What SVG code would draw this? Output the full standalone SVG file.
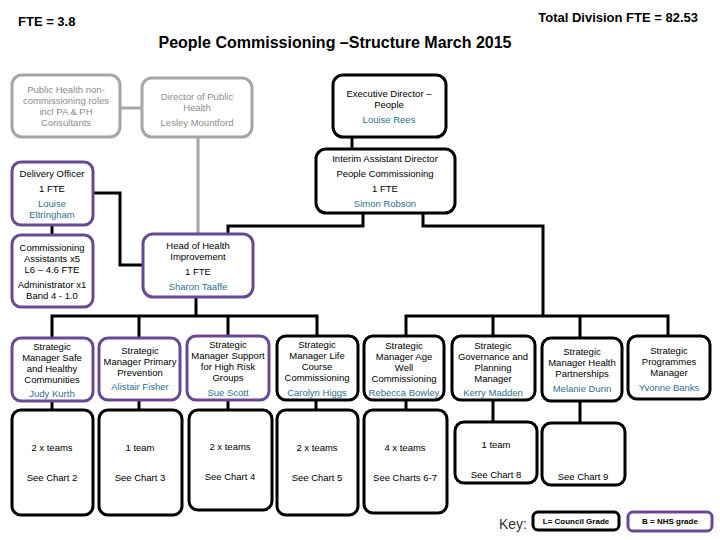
<svg xmlns="http://www.w3.org/2000/svg" width="720" height="540" viewBox="0 0 720 540">
<style>
text{font-family:"Liberation Sans",Arial,sans-serif;}
.t{font-size:9.5px;fill:#000;text-anchor:middle;}
.n{font-size:9.5px;fill:#2f6f8f;text-anchor:middle;}
.g{font-size:9.5px;fill:#8c8c8c;text-anchor:middle;}
.hd{font-weight:bold;fill:#000;}
.bk{fill:#fff;stroke:#000;stroke-width:3;}
.pu{fill:#fff;stroke:#674a91;stroke-width:3;}
.gr{fill:#fff;stroke:#a6a6a6;stroke-width:3;}
.c{fill:none;stroke:#000;stroke-width:3;}
.cg{fill:none;stroke:#a6a6a6;stroke-width:3;}
.k{font-size:8px;font-weight:bold;text-anchor:middle;fill:#000;}
</style>
<rect width="720" height="540" fill="#fff"/>
<text class="hd" x="18" y="26" font-size="13">FTE = 3.8</text>
<text class="hd" x="698" y="22" font-size="13" text-anchor="end">Total Division FTE = 82.53</text>
<text class="hd" x="335" y="48" font-size="16" text-anchor="middle">People Commissioning –Structure March 2015</text>

<g id="connectors">
<path class="cg" d="M120 108 H142"/>
<path class="cg" d="M198 137 V234"/>
<path class="c" d="M352 137 V149"/>
<path class="c" d="M363 213 V226 H228 V234"/>
<path class="c" d="M423 213 V226 H543 V316"/>
<path class="c" d="M93 193 H120 V265 H143"/>
<path class="c" d="M52 225 V235"/>
<path class="c" d="M196 297 V316"/>
<path class="c" d="M52 338 V316 H317 V336"/>
<path class="c" d="M139 316 V338 M228 316 V336"/>
<path class="c" d="M406 336 V316 H668 V336"/>
<path class="c" d="M493 316 V336 M580 316 V338"/>
<path class="c" d="M52 401 V410 M139 400 V410 M228 400 V410 M316 400 V410 M406 400 V410"/>
<path class="c" d="M493 401 V422 M580 401 V423"/>
</g>

<g id="ph-noncomm"><rect class="gr" x="12" y="75" width="108" height="62" rx="10"/>
<text class="g" x="66" y="93">Public Health non-</text><text class="g" x="66" y="104">commissioning roles</text><text class="g" x="66" y="115">incl PA &amp; PH</text><text class="g" x="66" y="126">Consultants</text></g>

<g id="dph"><rect class="gr" x="142" y="78" width="110" height="59" rx="10"/>
<text class="g" x="197" y="100">Director of Public</text><text class="g" x="197" y="111">Health</text><text class="g" x="197" y="126">Lesley Mountford</text></g>

<g id="exec"><rect class="bk" x="333" y="75" width="113" height="62" rx="10"/>
<text class="t" x="389" y="97">Executive Director –</text><text class="t" x="389" y="108">People</text><text class="n" x="389" y="123">Louise Rees</text></g>

<g id="interim"><rect class="bk" x="316" y="149" width="139" height="64" rx="10"/>
<text class="t" x="385" y="162">Interim Assistant Director</text><text class="t" x="385" y="177">People Commissioning</text><text class="t" x="385" y="192">1 FTE</text><text class="n" x="385" y="207">Simon Robson</text></g>

<g id="delivery"><rect class="pu" x="12" y="162" width="81" height="63" rx="9"/>
<text class="t" x="52" y="177">Delivery Officer</text><text class="t" x="52" y="192">1 FTE</text><text class="n" x="52" y="207">Louise</text><text class="n" x="52" y="218">Eltringham</text></g>

<g id="comm-assist"><rect class="pu" x="12" y="235" width="81" height="72" rx="9"/>
<text class="t" x="52" y="251">Commissioning</text><text class="t" x="52" y="262">Assistants x5</text><text class="t" x="52" y="273">L6 – 4.6 FTE</text><text class="t" x="52" y="288">Administrator x1</text><text class="t" x="52" y="299">Band 4 - 1.0</text></g>

<g id="head-hi"><rect class="pu" x="143" y="234" width="110" height="63" rx="10"/>
<text class="t" x="198" y="249">Head of Health</text><text class="t" x="198" y="260">Improvement</text><text class="t" x="198" y="275">1 FTE</text><text class="n" x="198" y="290">Sharon Taaffe</text></g>

<g id="sm-safe"><rect class="pu" x="12" y="338" width="81" height="63" rx="9"/>
<text class="t" x="52" y="350">Strategic</text><text class="t" x="52" y="361">Manager Safe</text><text class="t" x="52" y="372">and Healthy</text><text class="t" x="52" y="383">Communities</text><text class="n" x="52" y="397">Judy Kurth</text></g>

<g id="sm-primary"><rect class="pu" x="99" y="338" width="81" height="62" rx="9"/>
<text class="t" x="140" y="354">Strategic</text><text class="t" x="140" y="365">Manager Primary</text><text class="t" x="140" y="376">Prevention</text><text class="n" x="140" y="390">Alistair Fisher</text></g>

<g id="sm-support"><rect class="pu" x="187" y="336" width="82" height="64" rx="9"/>
<text class="t" x="228" y="348">Strategic</text><text class="t" x="228" y="359">Manager Support</text><text class="t" x="228" y="370">for High Risk</text><text class="t" x="228" y="381">Groups</text><text class="n" x="228" y="396">Sue Scott</text></g>

<g id="sm-life"><rect class="bk" x="277" y="336" width="81" height="64" rx="9"/>
<text class="t" x="317" y="348">Strategic</text><text class="t" x="317" y="359">Manager Life</text><text class="t" x="317" y="370">Course</text><text class="t" x="317" y="381">Commissioning</text><text class="n" x="317" y="396">Carolyn Higgs</text></g>

<g id="sm-age"><rect class="bk" x="364" y="336" width="80" height="64" rx="9"/>
<text class="t" x="404" y="349">Strategic</text><text class="t" x="404" y="360">Manager Age</text><text class="t" x="404" y="371">Well</text><text class="t" x="404" y="382">Commissioning</text><text class="n" x="404" y="396">Rebecca Bowley</text></g>

<g id="sm-gov"><rect class="bk" x="452" y="336" width="83" height="64" rx="9"/>
<text class="t" x="493" y="349">Strategic</text><text class="t" x="493" y="360">Governance and</text><text class="t" x="493" y="371">Planning</text><text class="t" x="493" y="382">Manager</text><text class="n" x="493" y="396">Kerry Madden</text></g>

<g id="sm-health"><rect class="bk" x="542" y="338" width="80" height="63" rx="9"/>
<text class="t" x="582" y="355">Strategic</text><text class="t" x="582" y="366">Manager Health</text><text class="t" x="582" y="377">Partnerships</text><text class="n" x="582" y="392">Melanie Dunn</text></g>

<g id="sm-prog"><rect class="bk" x="628" y="336" width="82" height="63" rx="9"/>
<text class="t" x="669" y="354">Strategic</text><text class="t" x="669" y="365">Programmes</text><text class="t" x="669" y="376">Manager</text><text class="n" x="669" y="391">Yvonne Banks</text></g>

<g id="teams-1"><rect class="bk" x="12" y="410" width="81" height="105" rx="9"/>
<text class="t" x="52" y="451">2 x teams</text><text class="t" x="52" y="481">See Chart 2</text></g>
<g id="teams-2"><rect class="bk" x="99" y="410" width="83" height="105" rx="9"/>
<text class="t" x="140" y="451">1 team</text><text class="t" x="140" y="481">See Chart 3</text></g>
<g id="teams-3"><rect class="bk" x="189" y="410" width="83" height="100" rx="9"/>
<text class="t" x="230" y="450">2 x teams</text><text class="t" x="230" y="480">See Chart 4</text></g>
<g id="teams-4"><rect class="bk" x="277" y="410" width="81" height="105" rx="9"/>
<text class="t" x="317" y="451">2 x teams</text><text class="t" x="317" y="481">See Chart 5</text></g>
<g id="teams-5"><rect class="bk" x="364" y="410" width="83" height="103" rx="9"/>
<text class="t" x="405" y="451">4 x teams</text><text class="t" x="405" y="481">See Charts 6-7</text></g>
<g id="teams-6"><rect class="bk" x="455" y="422" width="82" height="61" rx="9"/>
<text class="t" x="496" y="448">1 team</text><text class="t" x="496" y="478">See Chart 8</text></g>
<g id="teams-7"><rect class="bk" x="542" y="423" width="83" height="62" rx="9"/>
<text class="t" x="583" y="480">See Chart 9</text></g>

<g id="key">
<text x="499" y="529" font-size="14" fill="#333">Key:</text>
<rect class="bk" x="533" y="512" width="86" height="18" rx="5" stroke-width="2.5"/>
<text class="k" x="576" y="524">L= Council Grade</text>
<rect class="pu" x="628" y="512" width="84" height="19" rx="5" stroke-width="2.5"/>
<text class="k" x="670" y="524">B = NHS grade</text>
</g>
</svg>
